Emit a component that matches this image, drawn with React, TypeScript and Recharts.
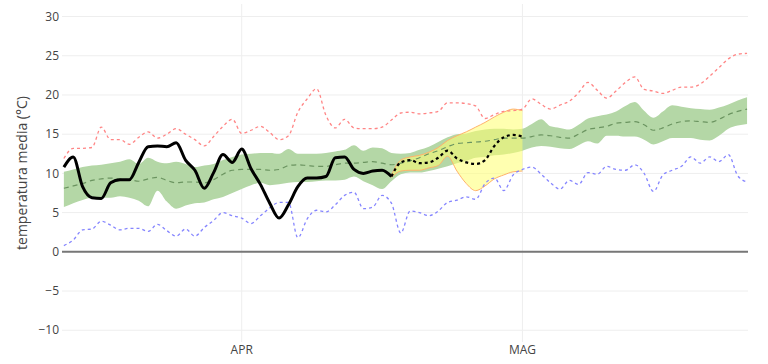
import React from "react";
import {
  ComposedChart,
  Area,
  Line,
  XAxis,
  YAxis,
  CartesianGrid,
  ReferenceLine,
} from "recharts";

// day offsets from 1 April: 13 March (-19) .. 25 May (54)
const firstDay = -19;
const lastDay = 54;
const days = Array.from({ length: lastDay - firstDay + 1 }, (_, i) => firstDay + i);

const monthTicks = [0, 30];
const monthLabels = ["APR", "MAG"];
const tempTicks = [-10, -5, 0, 5, 10, 15, 20, 25, 30];

// record max (red dotted)
const recordHigh = [
  11.9, 13.2, 13.2, 13.3, 15.9, 14.3, 14.3, 13.7, 14.6, 15.3,
  14.5, 15.0, 15.7, 15.0, 14.3, 13.5, 14.7, 16.0, 16.9,
  15.1, 15.5, 16.0, 15.2, 14.3, 14.8, 17.8, 19.5, 20.8, 17.4,
  15.8, 16.9, 15.8, 15.7, 15.7, 15.9, 16.8, 17.7, 17.8, 17.6,
  17.7, 17.9, 19.0, 19.0, 18.9, 18.6, 17.0, 17.5, 17.9, 18.0,
  18.2, 19.5, 18.8, 18.2, 18.7, 19.2, 20.3, 21.6, 20.6, 19.6,
  20.5, 21.6, 22.3, 20.7, 20.5, 20.2, 20.6, 21.0, 21.0, 21.4,
  22.4, 23.5, 24.6, 25.2, 25.3,
];

// record min (blue dotted)
const recordLow = [
  0.8, 1.5, 2.8, 2.9, 3.9, 3.4, 2.8, 3.0, 3.0, 2.6,
  3.5, 2.7, 2.0, 2.9, 2.0, 3.1, 4.0, 5.0, 4.6,
  4.3, 3.6, 4.6, 5.6, 6.3, 6.3, 1.8, 4.2, 5.3, 5.1,
  6.0, 7.2, 7.6, 5.5, 5.7, 7.2, 6.2, 2.4, 5.2, 5.0,
  4.6, 5.2, 6.3, 6.6, 7.0, 6.7, 8.7, 9.4, 7.8, 9.8,
  10.5, 10.8, 9.9, 8.8, 8.0, 9.1, 8.6, 10.1, 9.9, 10.9,
  10.5, 10.4, 11.1, 10.0, 7.7, 9.8, 10.4, 10.9, 12.1, 11.3,
  12.1, 11.5, 12.4, 9.7, 8.9,
];

// climatological band (green)
const normalLow = [
  5.7, 6.2, 6.6, 6.9, 6.9, 6.9, 7.1, 6.9, 6.5, 5.8,
  7.8, 6.4, 5.5, 5.9, 6.2, 6.3, 6.7, 7.0, 7.5,
  8.0, 8.5, 8.8, 8.5, 8.6, 8.8, 8.9, 8.9, 9.0, 9.1,
  9.1, 9.2, 9.6, 9.0, 8.5, 8.0, 9.0, 9.9, 10.1, 10.1,
  10.3, 10.6, 10.9, 11.3, 11.6, 12.0, 12.1, 12.3, 12.4, 12.6,
  12.9, 13.3, 13.5, 13.4, 13.2, 13.1, 13.6, 14.1, 13.8, 14.8,
  14.8, 14.7, 14.7, 14.3, 13.7, 14.1, 14.5, 14.5, 14.5, 14.3,
  14.2, 14.8, 15.7, 16.1, 16.3,
];
const normalHigh = [
  10.2, 10.5, 10.8, 11.0, 11.1, 11.3, 11.5, 11.8, 11.2, 12.0,
  11.5, 11.3, 11.5, 11.2, 10.8, 11.0, 11.2, 11.7, 12.1,
  12.4, 12.5, 12.6, 12.6, 12.5, 13.1, 12.5, 12.5, 12.5, 12.6,
  12.8, 13.0, 13.6, 12.9, 13.3, 13.2, 12.6, 12.5, 12.6, 13.0,
  13.4, 14.0, 14.6, 15.0, 15.1, 15.4, 15.6, 15.7, 15.7, 15.6,
  15.7, 16.3, 16.9, 16.0, 15.8, 15.6, 16.2, 17.0, 17.3, 17.5,
  17.9, 18.6, 19.1, 18.0, 17.1, 17.9, 18.7, 18.5, 18.3, 18.2,
  18.1, 18.4, 18.8, 19.3, 19.7,
];
const normalMean = [
  8.1, 8.4, 8.7, 9.1, 9.3, 9.4, 9.3, 9.2, 9.0, 9.3,
  9.5, 9.1, 8.8, 8.9, 8.9, 8.8, 9.2, 9.9, 10.4,
  10.5, 10.5, 10.5, 10.4, 10.5, 11.0, 11.1, 11.0, 10.9, 10.9,
  11.1, 11.3, 11.3, 11.4, 11.5, 11.3, 11.1, 11.3, 11.6, 12.0,
  12.5, 12.9, 13.4, 13.8, 13.9, 14.0, 14.1, 14.3, 14.5, 14.5,
  14.5, 14.7, 14.9, 14.8, 14.6, 14.5, 15.0, 15.6, 15.8, 16.0,
  16.4, 16.5, 16.6, 16.2, 15.5, 15.8, 16.3, 16.6, 16.7, 16.6,
  16.5, 16.9, 17.5, 17.9, 18.2,
];

// observed, 13 Mar .. 17 Apr
const observed = [
  10.8, 12.1, 8.3, 6.9, 6.8, 8.8, 9.2, 9.2, 11.4, 13.4,
  13.5, 13.4, 13.9, 11.7, 10.4, 8.1, 10.1, 12.4, 11.4,
  13.1, 10.6, 8.6, 6.2, 4.3, 6.0, 8.3, 9.4, 9.4, 9.6,
  12.0, 12.1, 10.5, 10.0, 10.3, 10.4, 9.6,
];

// forecast, 17 Apr .. 1 May
const forecastStart = 16;
const forecast = [9.6, 11.4, 11.7, 11.3, 11.4, 12.0, 12.9, 11.9, 11.4, 11.2, 11.7, 13.5, 14.6, 14.9, 14.7];
const forecastLow = [9.5, 10.3, 10.4, 10.4, 10.7, 11.0, 12.2, 10.3, 8.7, 7.8, 8.4, 9.3, 9.8, 10.2, 10.3];
const forecastHigh = [9.8, 11.7, 12.1, 12.3, 12.7, 13.3, 14.2, 14.8, 15.3, 15.9, 16.5, 17.2, 17.8, 18.2, 18.0];

const data = days.map((day, i) => {
  const f = day - forecastStart;
  const inFc = f >= 0 && f < forecast.length;
  return {
    day,
    hi: recordHigh[i],
    lo: recordLow[i],
    band: [normalLow[i], normalHigh[i]],
    mean: normalMean[i],
    obs: i < observed.length ? observed[i] : null,
    fc: inFc ? forecast[f] : null,
    fcBand: inFc ? [forecastLow[f], forecastHigh[f]] : null,
  };
});

const font = '"Open Sans", Arial, sans-serif';
const tick = { fill: "#444", fontSize: 12, fontFamily: font };

export default function App() {
  return (
    <div style={{ position: "absolute", left: 0, top: 0, width: 768, height: 364, background: "#fff" }}>
      <ComposedChart width={768} height={364} data={data} margin={{ top: 4, right: 20, bottom: 0, left: 0 }}>
        <CartesianGrid stroke="#eeeeee" strokeWidth={1} syncWithTicks />
        <XAxis
          dataKey="day"
          type="number"
          domain={[-19.2, 54.1]}
          ticks={monthTicks}
          tickFormatter={(v) => monthLabels[monthTicks.indexOf(v)] ?? ""}
          tick={tick}
          axisLine={false}
          tickLine={false}
          tickSize={0}
          tickMargin={3}
          height={22}
        />
        <YAxis
          type="number"
          domain={[-11.5, 31.6]}
          ticks={tempTicks}
          tickFormatter={(v) => String(v).replace("-", "\u2212")}
          tick={tick}
          axisLine={false}
          tickLine={false}
          tickSize={0}
          tickMargin={3}
          width={62}
          label={{
            value: "temperatura media (°C)",
            angle: -90,
            position: "insideLeft",
            offset: 22,
            style: { textAnchor: "middle", fill: "#444", fontSize: 14, fontFamily: font },
          }}
        />
        <ReferenceLine y={0} stroke="#777" strokeWidth={2} />
        <Area
          dataKey="band"
          type="monotone"
          fill="#b4d7a6"
          fillOpacity={1}
          stroke="none"
          dot={false}
          activeDot={false}
          isAnimationActive={false}
        />
        <Line
          dataKey="mean"
          type="monotone"
          stroke="#6b9460"
          strokeWidth={1.2}
          strokeDasharray="5 4"
          dot={false}
          activeDot={false}
          isAnimationActive={false}
        />
        <Line
          dataKey="hi"
          type="monotone"
          stroke="#ff8585"
          strokeWidth={1.3}
          strokeDasharray="3 3"
          dot={false}
          activeDot={false}
          isAnimationActive={false}
        />
        <Line
          dataKey="lo"
          type="monotone"
          stroke="#8585ff"
          strokeWidth={1.3}
          strokeDasharray="3 3"
          dot={false}
          activeDot={false}
          isAnimationActive={false}
        />
        <Area
          dataKey="fcBand"
          type="monotone"
          fill="#ffff70"
          fillOpacity={0.55}
          stroke="#ffb26b"
          strokeWidth={1}
          dot={false}
          activeDot={false}
          isAnimationActive={false}
        />
        <Line
          dataKey="obs"
          type="monotone"
          stroke="#000"
          strokeWidth={3}
          dot={false}
          activeDot={false}
          isAnimationActive={false}
        />
        <Line
          dataKey="fc"
          type="monotone"
          stroke="#000"
          strokeWidth={2.2}
          strokeDasharray="3 3"
          dot={false}
          activeDot={false}
          isAnimationActive={false}
        />
      </ComposedChart>
    </div>
  );
}
